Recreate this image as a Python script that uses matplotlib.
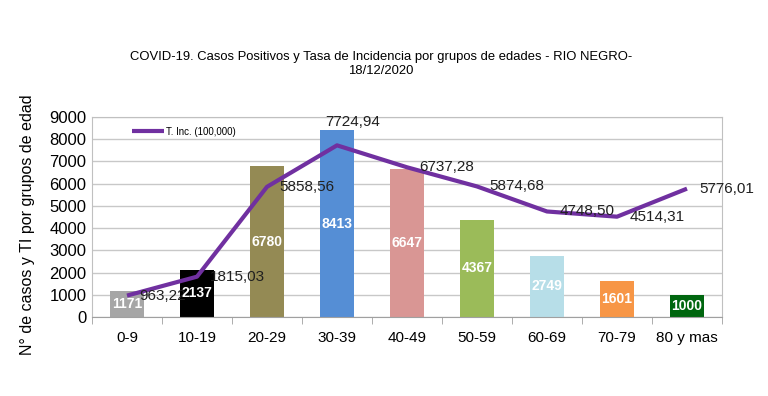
import matplotlib.pyplot as plt
import numpy as np

grupos = ["0-9", "10-19", "20-29", "30-39", "40-49", "50-59", "60-69", "70-79", "80 y mas"]
casos = [1171, 2137, 6780, 8413, 6647, 4367, 2749, 1601, 1000]
tasa = [963.22, 1815.03, 5858.56, 7724.94, 6737.28, 5874.68, 4748.50, 4514.31, 5776.01]
colores = ["#a6a6a6", "#000000", "#948a54", "#558ed5", "#d99694",
           "#9bbb59", "#b7dee8", "#f79646", "#00660f"]

plt.rcParams['font.family'] = ['Liberation Sans', 'DejaVu Sans']

fig = plt.figure(figsize=(7.68, 3.96), dpi=100)
ax = fig.add_axes([92 / 768, 1 - 317 / 396, 630 / 768, 200 / 396])

x = np.arange(len(grupos))
bars = ax.bar(x, casos, width=0.49, color=colores, zorder=2)
for b, v in zip(bars, casos):
    ax.text(b.get_x() + b.get_width() / 2, v / 2, str(v), ha="center", va="center",
            color="white", fontsize=10, fontweight="bold", zorder=6)

ax.plot(x, tasa, color="#7030a0", lw=3, zorder=3, label="T. Inc. (100,000)",
        solid_capstyle="butt")
for i, v in enumerate(tasa):
    txt = f"{v:.2f}".replace(".", ",")
    if i == 3:
        off, ha = (11, 17), "center"
    else:
        off, ha = (9, 0), "left"
    ax.annotate(txt, (i, v), xytext=off, textcoords="offset points", ha=ha, va="center",
                fontsize=11, color="#202020", zorder=4)

ax.set_xlim(-0.5, len(grupos) - 0.5)
ax.set_ylim(0, 9000)
ax.set_yticks(range(0, 9001, 1000))
ax.set_xticks(x)
ax.set_xticklabels(grupos, fontsize=11)
ax.set_xticks(np.arange(-0.5, len(grupos), 1), minor=True)
ax.tick_params(axis="x", which="major", length=0, pad=10)
ax.tick_params(axis="x", which="minor", length=5, color="#a0a0a0")
ax.tick_params(axis="y", length=0, labelsize=12, pad=4)
ax.grid(axis="y", color="#c8c8c8", lw=1, zorder=0)
for s in ax.spines.values():
    s.set_color("#c0c0c0")
ax.spines["bottom"].set_color("#a0a0a0")

ax.set_ylabel("N° de casos y TI por grupos de edad", fontsize=11.5)
ax.yaxis.set_label_coords(-0.09, 0.46)

ax.legend(loc="upper left", bbox_to_anchor=(0.05, 0.995), frameon=False,
          fontsize=7, handlelength=3.3, handletextpad=0.2)

fig.text(381 / 768, 1 - 64 / 396,
         "COVID-19. Casos Positivos y Tasa de Incidencia por grupos de edades - RIO NEGRO-\n18/12/2020",
         ha="center", va="center", fontsize=9.4, linespacing=1.25)

fig.savefig("out.png", dpi=100)
